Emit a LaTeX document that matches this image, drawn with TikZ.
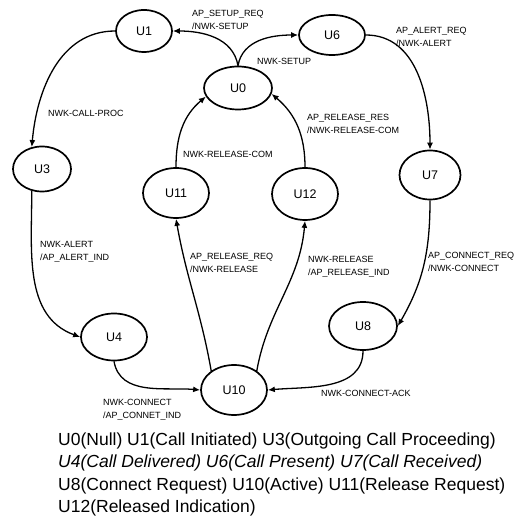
\documentclass[tikz,border=0pt]{standalone}
\usepackage{fontspec}
\setmainfont{Liberation Sans}
\usetikzlibrary{arrows.meta,shapes.geometric}
\begin{document}
\begin{tikzpicture}[x=1pt,y=1pt,
  state/.style={draw, ellipse, line width=1.7pt, inner sep=0pt,
    font=\fontsize{12.5}{14}\selectfont},
  trans/.style={line width=1.3pt, -{Latex[length=7pt,width=6pt]}},
  lbl/.style={anchor=west, inner sep=0pt, align=left,
    font=\fontsize{9}{13}\selectfont},
  legendline/.style={anchor=base west, inner sep=0pt,
    font=\fontsize{17.5}{21}\selectfont}]
\useasboundingbox (0,0) rectangle (520,530);

% states
\node[state, minimum width=56pt, minimum height=42pt] (U1)  at (144,499) {U1};
\node[state, minimum width=66pt, minimum height=40pt] (U6)  at (332,495) {U6};
\node[state, minimum width=68pt, minimum height=43pt] (U0)  at (238,442) {U0};
\node[state, minimum width=58pt, minimum height=45pt] (U3)  at (42,361)  {U3};
\node[state, minimum width=61pt, minimum height=49pt] (U7)  at (430,355) {U7};
\node[state, minimum width=66pt, minimum height=50pt] (U11) at (176,337) {U11};
\node[state, minimum width=66pt, minimum height=52pt] (U12) at (305,336) {U12};
\node[state, minimum width=66pt, minimum height=47pt] (U4)  at (114,193) {U4};
\node[state, minimum width=68pt, minimum height=48pt] (U8)  at (363,204) {U8};
\node[state, minimum width=66pt, minimum height=50pt] (U10) at (234,140) {U10};

% transitions
\draw[trans] (U0.north) to[out=100,in=0]   (U1.east);
\draw[trans] (U0.north) to[out=80,in=180]  (U6.west);
\draw[trans] (U1.west)  to[out=180,in=85]  (U3.115);
\draw[trans] (U3.245)   to[out=-90,in=160] (U4.west);
\draw[trans] (U4.south) to[out=-80,in=175] (U10.west);
\draw[trans] (U10.140)  to[out=100,in=-80] (U11.south);
\draw[trans] (U10.40)   to[out=80,in=-95]  (U12.south);
\draw[trans] (U11.north) to[out=90,in=220] (U0.195);
\draw[trans] (U12.north) to[out=90,in=-40] (U0.-10);
\draw[trans] (U6.east)  to[out=0,in=90]    (U7.north);
\draw[trans] (U7.south) to[out=-90,in=60]  (U8.east);
\draw[trans] (U8.south) to[out=-90,in=5]   (U10.east);

% transition labels
\node[lbl] (l01)   at (192,510) {AP\_SETUP\_REQ\\/NWK-SETUP};
\node[lbl] (l06)   at (257,469) {NWK-SETUP};
\node[lbl] (l13)   at (48,417)  {NWK-CALL-PROC};
\node[lbl] (l110)  at (183,376) {NWK-RELEASE-COM};
\node[lbl] (l120)  at (307,406) {AP\_RELEASE\_RES\\/NWK-RELEASE-COM};
\node[lbl] (l67)   at (396,493) {AP\_ALERT\_REQ\\/NWK-ALERT};
\node[lbl] (l34)   at (40,278.5) {NWK-ALERT\\/AP\_ALERT\_IND};
\node[lbl] (l1011) at (190,267.5) {AP\_RELEASE\_REQ\\/NWK-RELEASE};
\node[lbl] (l1012) at (308,263) {NWK-RELEASE\\/AP\_RELEASE\_IND};
\node[lbl] (l78)   at (428,268) {AP\_CONNECT\_REQ\\/NWK-CONNECT};
\node[lbl] (l810)  at (321,137) {NWK-CONNECT-ACK};
\node[lbl] (l410)  at (103,120) {NWK-CONNECT\\/AP\_CONNET\_IND};

% legend
\node[legendline] (leg1) at (58,84) {U0(Null) U1(Call Initiated) U3(Outgoing Call Proceeding)};
\node[legendline] (leg2) at (58,62) {\itshape U4(Call Delivered) U6(Call Present) U7(Call Received)};
\node[legendline] (leg3) at (58,39) {U8(Connect Request) U10(Active) U11(Release Request)};
\node[legendline] (leg4) at (58,17) {U12(Released Indication)};
\end{tikzpicture}
\end{document}
